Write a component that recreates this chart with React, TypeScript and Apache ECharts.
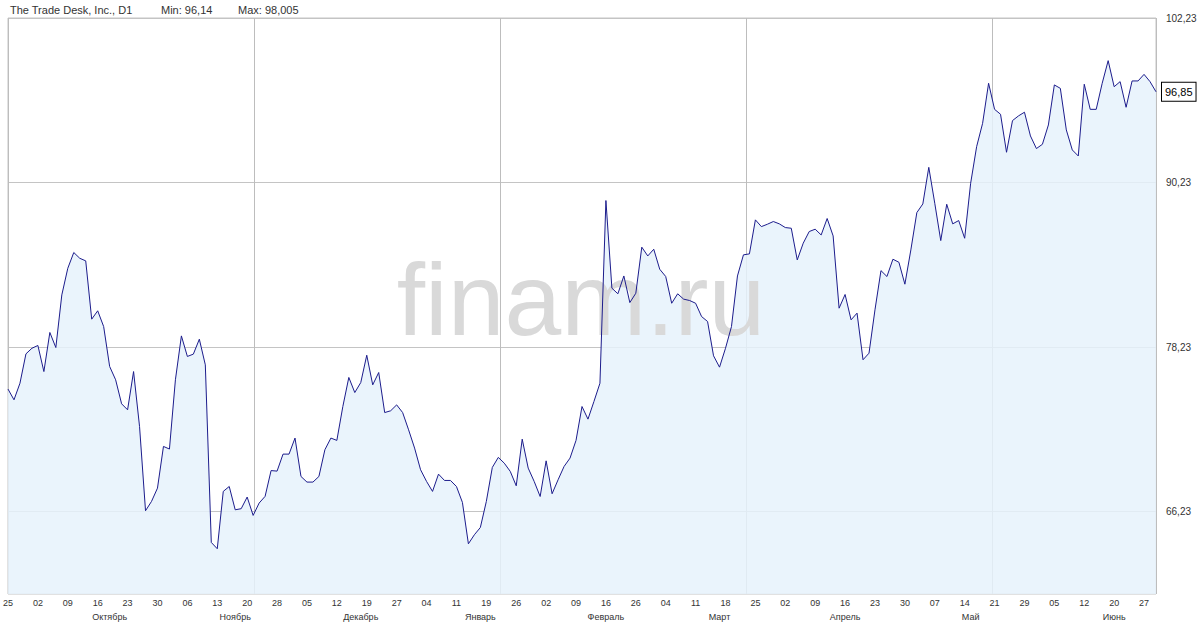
import React, { useEffect, useRef } from "react";
import * as echarts from "echarts";

// NYSE trading days shown on the chart
const sep2023 = [25, 26, 27, 28, 29];
const oct2023 = [2, 3, 4, 5, 6, 9, 10, 11, 12, 13, 16, 17, 18, 19, 20, 23, 24, 25, 26, 27, 30, 31];
const nov2023 = [1, 2, 3, 6, 7, 8, 9, 10, 13, 14, 15, 16, 17, 20, 21, 22, 24, 27, 28, 29, 30];
const dec2023 = [1, 4, 5, 6, 7, 8, 11, 12, 13, 14, 15, 18, 19, 20, 21, 22, 26, 27, 28, 29];
const jan2024 = [2, 3, 4, 5, 8, 9, 10, 11, 12, 16, 17, 18, 19, 22, 23, 24, 25, 26, 29, 30, 31];
const feb2024 = [1, 2, 5, 6, 7, 8, 9, 12, 13, 14, 15, 16, 20, 21, 22, 23, 26, 27, 28, 29];
const mar2024 = [1, 4, 5, 6, 7, 8, 11, 12, 13, 14, 15, 18, 19, 20, 21, 22, 25, 26, 27, 28];
const apr2024 = [1, 2, 3, 4, 5, 8, 9, 10, 11, 12, 15, 16, 17, 18, 19, 22, 23, 24, 25, 26, 29, 30];
const may2024 = [1, 2, 3, 6, 7, 8, 9, 10, 13, 14, 15, 16, 17, 20, 21, 22, 23, 24, 28, 29, 30, 31];
const jun2024 = [3, 4, 5, 6, 7, 10, 11, 12, 13, 14, 17, 18, 20, 21, 24, 25, 26, 27, 28];
const jul2024 = [1];

const monthDays: [string, number[]][] = [
  ["2023-09", sep2023], ["2023-10", oct2023], ["2023-11", nov2023], ["2023-12", dec2023],
  ["2024-01", jan2024], ["2024-02", feb2024], ["2024-03", mar2024], ["2024-04", apr2024],
  ["2024-05", may2024], ["2024-06", jun2024], ["2024-07", jul2024],
];
const categories = monthDays.flatMap(([ym, days]) =>
  days.map((d) => `${ym}-${String(d).padStart(2, "0")}`)
);

// Daily close
const closes = [
  75.17, 74.39, 75.60, 77.74, 78.15, 78.35, 76.45, 79.30, 78.20, 82.04,
  83.98, 85.13, 84.71, 84.52, 80.27, 80.88, 79.73, 76.82, 75.85, 74.10,
  73.66, 76.45, 72.45, 66.30, 66.98, 67.95, 70.99, 70.80, 75.85, 79.05,
  77.55, 77.72, 78.81, 76.94, 63.99, 63.53, 67.71, 68.07, 66.37, 66.45,
  67.30, 65.96, 66.86, 67.35, 69.23, 69.19, 70.43, 70.43, 71.60, 68.80,
  68.39, 68.39, 68.80, 70.75, 71.60, 71.43, 73.90, 76.02, 74.92, 75.65,
  77.64, 75.48, 76.38, 73.46, 73.59, 74.02, 73.46, 72.20, 70.87, 69.29,
  68.44, 67.71, 68.97, 68.51, 68.51, 68.07, 66.91, 63.89, 64.55, 65.08,
  66.98, 69.46, 70.19, 69.77, 69.17, 68.12, 71.52, 69.41, 68.44, 67.34,
  69.94, 67.54, 68.56, 69.53, 70.14, 71.43, 73.90, 72.98, 74.27, 75.60,
  88.92, 82.53, 82.12, 83.42, 81.48, 82.16, 85.52, 84.88, 85.37, 83.91,
  83.38, 81.43, 82.12, 81.73, 81.63, 81.43, 80.46, 80.10, 77.60, 76.77,
  78.15, 79.73, 83.42, 84.96, 85.03, 87.51, 87.02, 87.19, 87.39, 87.22,
  86.95, 86.90, 84.59, 85.81, 86.66, 86.83, 86.41, 87.61, 86.34, 81.07,
  82.07, 80.22, 80.71, 77.31, 77.79, 80.95, 83.81, 83.38, 84.64, 84.42,
  82.82, 85.32, 88.04, 88.67, 91.34, 88.72, 86.00, 88.65, 87.22, 87.46,
  86.17, 90.18, 92.85, 94.55, 97.47, 95.57, 95.21, 92.44, 94.75, 95.09,
  95.36, 93.63, 92.71, 93.02, 94.43, 97.35, 97.10, 94.07, 92.61, 92.17,
  97.40, 95.57, 95.57, 97.47, 99.12, 97.22, 97.59, 95.72, 97.64, 97.64,
  98.12, 97.59, 96.85,
];

const yMin = 60.23;
const yMax = 102.23;
const yTicks = [66.23, 78.23, 90.23, 102.23];

const monthLabelDates = [
  "2023-10-18", "2023-11-16", "2023-12-18", "2024-01-18", "2024-02-16",
  "2024-03-15", "2024-04-16", "2024-05-15", "2024-06-20",
];
const monthNames = ["Октябрь", "Ноябрь", "Декабрь", "Январь", "Февраль", "Март", "Апрель", "Май", "Июнь"];

const titleText = "The Trade Desk, Inc., D1";
const minText = "Min: 96,14";
const maxText = "Max: 98,005";
const lastPrice = 96.85;
const watermark = "finam.ru";

const FONT = '"Liberation Sans", Arial, sans-serif';

const fmt = (v: number) => v.toFixed(2).replace(".", ",");

export default function App() {
  const ref = useRef<HTMLDivElement>(null);

  useEffect(() => {
    if (!ref.current) return;
    const chart = echarts.init(ref.current, undefined, { renderer: "svg" });
    const gridW = 1148;

    chart.setOption({
      animation: false,
      backgroundColor: "#ffffff",
      textStyle: { fontFamily: FONT },
      grid: {
        left: 8,
        right: 44,
        top: 18,
        bottom: 36,
        show: true,
        borderColor: "#c4c4c4",
        borderWidth: 1,
        backgroundColor: "transparent",
      },
      xAxis: [
        {
          type: "category",
          data: categories,
          boundaryGap: false,
          position: "bottom",
          axisLine: { show: false },
          axisTick: { show: false },
          splitLine: { show: false },
          axisLabel: {
            interval: 4,
            margin: 4,
            fontSize: 9,
            color: "#333",
            fontFamily: FONT,
            formatter: (v: string) => v.slice(8),
          },
        },
        {
          type: "category",
          data: categories,
          boundaryGap: false,
          position: "bottom",
          offset: 14,
          axisLine: { show: false },
          axisTick: { show: false },
          splitLine: { show: false },
          axisLabel: {
            interval: (_i: number, v: string) => monthLabelDates.includes(v),
            margin: 4,
            fontSize: 9,
            color: "#333",
            fontFamily: FONT,
            formatter: (v: string) => {
              const k = monthLabelDates.indexOf(v);
              return k >= 0 ? monthNames[k] : "";
            },
          },
        },
        {
          type: "value",
          min: 0,
          max: gridW,
          interval: 246,
          position: "top",
          axisLine: { show: false },
          axisTick: { show: false },
          axisLabel: { show: false },
          splitLine: { show: true, lineStyle: { color: "#bdbdbd", width: 1 } },
        },
      ],
      yAxis: {
        type: "value",
        position: "right",
        min: yMin,
        max: yMax,
        axisLine: { show: false },
        axisTick: { show: false, customValues: yTicks },
        axisLabel: {
          customValues: yTicks,
          margin: 10,
          fontSize: 10,
          color: "#333",
          fontFamily: FONT,
          formatter: (v: number) => fmt(v),
        },
        splitLine: { show: true, lineStyle: { color: "#c4c4c4", width: 1 } },
      },
      graphic: [
        {
          type: "text",
          x: 10,
          y: 10,
          z: 10,
          style: { text: titleText, fill: "#333", fontSize: 11, fontFamily: FONT, verticalAlign: "middle" },
        },
        {
          type: "text",
          x: 161,
          y: 10,
          z: 10,
          style: { text: minText, fill: "#333", fontSize: 11, fontFamily: FONT, verticalAlign: "middle" },
        },
        {
          type: "text",
          x: 238,
          y: 10,
          z: 10,
          style: { text: maxText, fill: "#333", fontSize: 11, fontFamily: FONT, verticalAlign: "middle" },
        },
        {
          type: "text",
          x: 581,
          y: 300,
          z: 2,
          silent: true,
          style: {
            text: watermark,
            fill: "#d9d9d9",
            fontSize: 102,
            fontFamily: FONT,
            align: "center",
            verticalAlign: "middle",
          },
        },
      ],
      series: [
        {
          type: "line",
          data: closes,
          xAxisIndex: 0,
          yAxisIndex: 0,
          z: 1,
          showSymbol: false,
          silent: true,
          lineStyle: { width: 0, opacity: 0 },
          areaStyle: { color: "#e6f2fc", opacity: 0.85 },
        },
        {
          type: "line",
          data: closes,
          xAxisIndex: 0,
          yAxisIndex: 0,
          z: 3,
          showSymbol: false,
          silent: true,
          lineStyle: { color: "#1c1c8c", width: 1 },
          markPoint: {
            symbol: "rect",
            symbolSize: 0,
            silent: true,
            data: [{ coord: [categories[categories.length - 1], lastPrice] }],
            label: {
              show: true,
              position: "right",
              distance: 6,
              formatter: () => fmt(lastPrice),
              color: "#000",
              fontSize: 11,
              fontFamily: FONT,
              backgroundColor: "#fff",
              borderColor: "#000",
              borderWidth: 1,
              padding: [4, 3, 3, 3],
            },
          },
        },
      ],
    });

    return () => chart.dispose();
  }, []);

  return (
    <div
      ref={ref}
      style={{ position: "fixed", left: 0, top: 0, width: 1200, height: 630 }}
    />
  );
}
